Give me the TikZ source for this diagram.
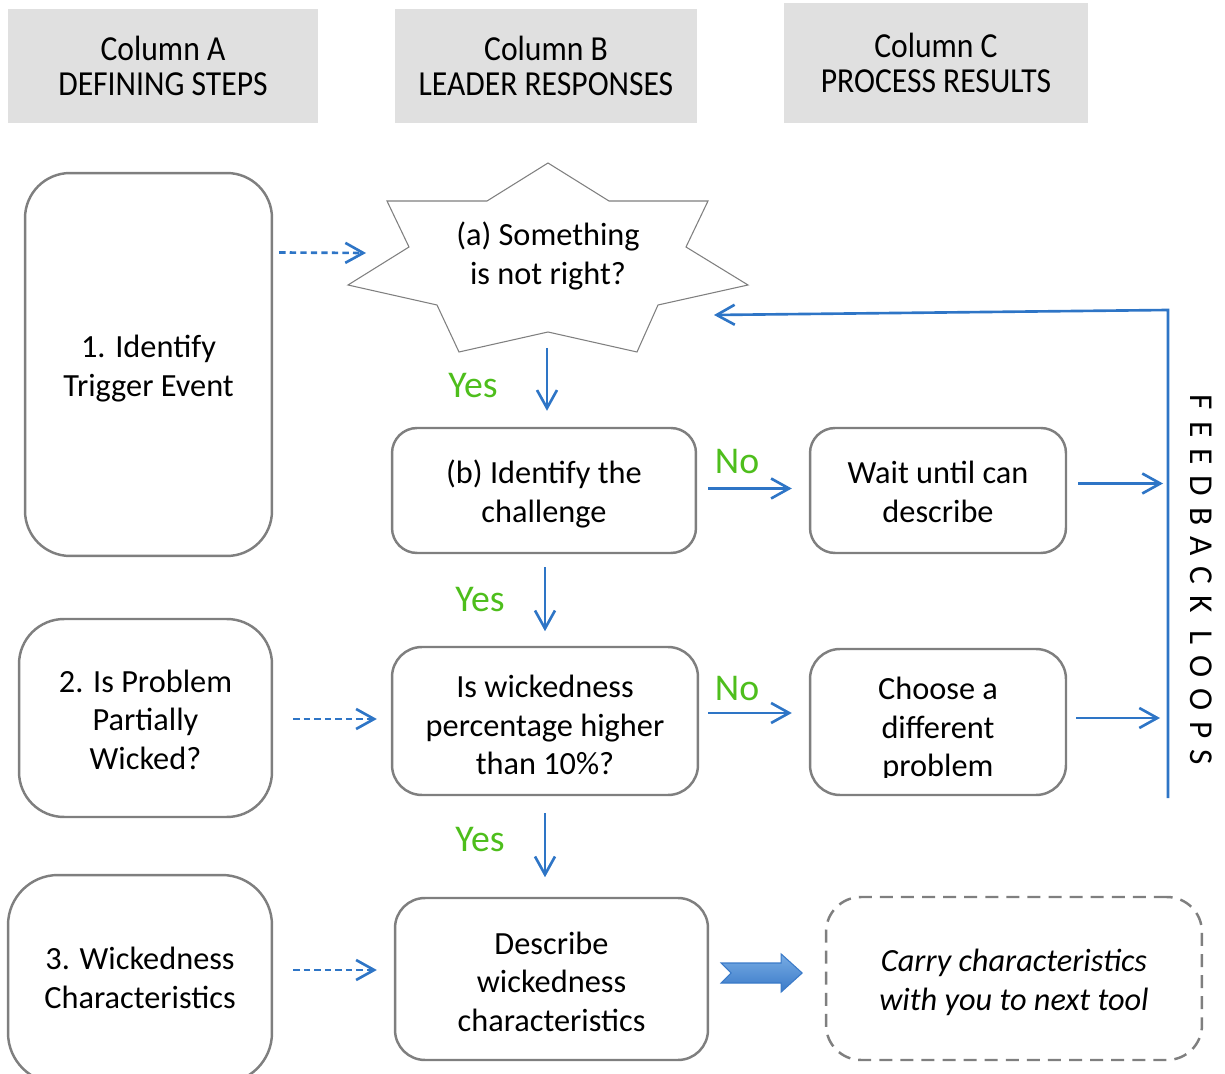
\documentclass[tikz,border=0pt]{standalone}
\usepackage{fontspec}
\setmainfont{Carlito}
\newfontfamily\headfont{Carlito}[FakeStretch=0.9]
\newfontfamily\loopfont{Carlito}[LetterSpace=33]
\usetikzlibrary{arrows.meta,calc}
\definecolor{boxgray}{RGB}{127,127,127}
\definecolor{headfill}{RGB}{224,224,224}
\definecolor{flowblue}{RGB}{46,117,198}
\definecolor{yesgreen}{RGB}{78,190,28}
\definecolor{arrowlight}{RGB}{120,172,228}
\definecolor{arrowdark}{RGB}{58,122,200}
\begin{document}
\begin{tikzpicture}[x=0.02cm,y=-0.02cm,
  txt/.style={font=\fontsize{18.4}{22}\selectfont, align=center, text=black,
    text depth=4pt, inner sep=0pt},
  head/.style={fill=headfill, draw=none, font=\headfont\fontsize{20}{19.8}\selectfont,
    align=center, inner sep=0pt},
  stepbox/.style={draw=boxgray, line width=1.4pt, rounded corners=#1, inner sep=0pt},
  stepbox/.default=0.5cm,
  flow/.style={draw=flowblue, line width=1.5pt,
    -{Straight Barb[length=3.6mm,width=4mm,line width=1.5pt]}},
  dashflow/.style={flow, dash pattern=on 3.6pt off 2.4pt},
  answer/.style={font=\fontsize{21.5}{24}\selectfont, text=yesgreen, inner sep=0pt}
]
\useasboundingbox (0,0) rectangle (1225,1074);

% column headers
\node[head, minimum width=6.2cm, minimum height=2.28cm] (hA) at (163,66)
  {Column A\\DEFINING STEPS};
\node[head, minimum width=6.04cm, minimum height=2.28cm] (hB) at (546,66)
  {Column B\\LEADER RESPONSES};
\node[head, minimum width=6.08cm, minimum height=2.4cm] (hC) at (936,63)
  {Column C\\PROCESS RESULTS};

% column A: defining steps
\node[stepbox=0.9cm, minimum width=4.94cm, minimum height=7.66cm] (s1) at (148.5,364.5) {};
\node[txt] (s1t) at ($(s1)+(0,4.5)$) {1. Identify\\Trigger Event};
\node[stepbox=0.9cm, minimum width=5.06cm, minimum height=3.96cm] (s2) at (145.5,718) {};
\node[txt] (s2t) at ($(s2)+(0,5)$) {2. Is Problem\\Partially\\Wicked?};
\node[stepbox=1cm, minimum width=5.28cm, minimum height=4.16cm] (s3) at (140,979) {};
\node[txt] (s3t) at ($(s3)+(0,2.5)$) {3. Wickedness\\Characteristics};

% column B: leader responses
\draw[draw=boxgray, line width=0.6pt, fill=white]
  (548,163) -- (609,201) -- (708,201) -- (686,247) -- (748,285) -- (658,305)
  -- (637,352) -- (548,332) -- (459,352) -- (437,305) -- (348,285) -- (409,247)
  -- (387,201) -- (487,201) -- cycle;
\coordinate (abot) at (548,332);
\coordinate (aleft) at (348,253);
\coordinate (aright) at (714,315);
\node[txt] (a) at (548,257) {(a) Something\\is not right?};

\node[stepbox=0.5cm, minimum width=6.08cm, minimum height=2.5cm] (b) at (544,490.5) {};
\node[txt] (bt) at ($(b)+(0,4)$) {(b) Identify the\\challenge};
\node[stepbox=0.6cm, minimum width=6.12cm, minimum height=2.96cm] (w) at (545,721) {};
\node[txt] (wt) at ($(w)+(0,7.5)$) {Is wickedness\\percentage higher\\than 10\%?};
\node[stepbox=0.6cm, minimum width=6.26cm, minimum height=3.24cm] (d) at (551.5,979) {};
\node[txt] (dt) at ($(d)+(0,6)$) {Describe\\wickedness\\characteristics};

% column C: process results
\node[stepbox=0.5cm, minimum width=5.12cm, minimum height=2.5cm] (wait) at (938,490.5) {};
\node[txt] (waitt) at ($(wait)+(0,5)$) {Wait until can\\describe};
\node[stepbox=0.6cm, minimum width=5.12cm, minimum height=2.92cm] (choose) at (938,722) {};
\begin{scope}
  \clip (choose.north west) rectangle ($(choose.east)+(0,55)$);
  \node[txt] (chooset) at ($(choose)+(0,8.5)$) {Choose a\\different\\problem};
\end{scope}
\node[stepbox=0.7cm, dash pattern=on 7.4pt off 4.6pt, minimum width=7.52cm,
  minimum height=3.26cm] (carry) at (1014,978.5) {};
\node[txt, font=\itshape\fontsize{18.4}{22}\selectfont] (carryt) at ($(carry)+(0,4.5)$)
  {Carry characteristics\\with you to next tool};

% links from the defining steps
\draw[dashflow] ($(s1.east)+(6,-112)$) -- ($(aleft)+(18,0)$);
\draw[dashflow] ($(s2.east)+(20,1)$) -- ($(w.west)+(-14,-2)$);
\draw[dashflow] ($(s3.east)+(20,-9)$) -- ($(d.west)+(-17,-9)$);

% yes path
\draw[flow] ($(abot)+(-1,16)$) -- ($(abot |- b.north)+(-1,-16)$);
\draw[flow] ($(b.south)+(1,13)$) -- ($(b.south)+(1,77)$);
\draw[flow] ($(w.south)+(0,17)$) -- ($(w.south)+(0,81)$);
\node[answer] (y1) at (473,386) {Yes};
\node[answer] (y2) at (480,600) {Yes};
\node[answer] (y3) at (480,840) {Yes};

% no branches
\draw[flow] ($(b.east)+(11,-2)$) -- ($(wait.west)+(-17,-2)$);
\draw[flow] ($(w.east)+(9,-8)$) -- ($(choose.west)+(-17,-9)$);
\node[answer] (n1) at (737,462) {No};
\node[answer] (n2) at (737,689) {No};

% feedback loops
\coordinate (fbtop) at (1168,310);
\coordinate (fbbot) at (1168,798);
\draw[flow] ($(wait.east)+(11,-7)$) -- ($(fbtop |- wait.east)+(-5,-7)$);
\draw[flow] ($(choose.east)+(9,-4)$) -- ($(fbtop |- choose.east)+(-8,-4)$);
\draw[flow] (fbbot) -- (fbtop) -- (aright);
\node[rotate=-90, font=\loopfont\fontsize{19}{22}\selectfont, inner sep=0pt] (loops)
  at (1201,580) {FEEDBACK LOOPS};

% block arrow towards the next tool
\shade[top color=arrowlight, bottom color=arrowdark, draw=arrowdark, line width=0.6pt]
  ($(d.east)+(12,-16)$) -- ++(60,0) -- ++(0,-9) -- ++(21,19) -- ++(-21,19) -- ++(0,-9)
  -- ++(-60,0) -- ++(10,-10) -- cycle;
\end{tikzpicture}
\end{document}
